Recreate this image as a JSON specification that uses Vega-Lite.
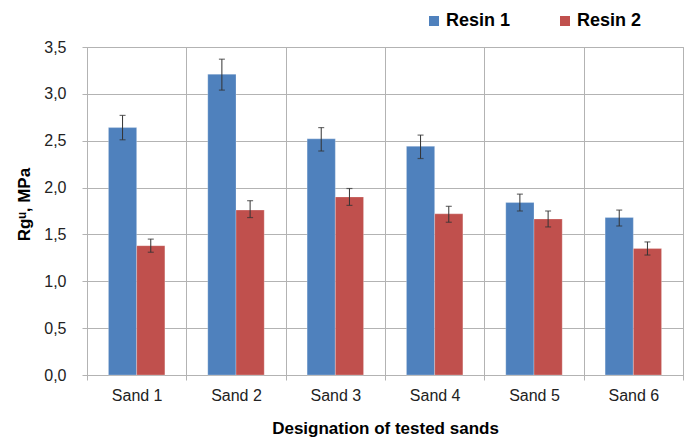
{
  "$schema": "https://vega.github.io/schema/vega-lite/v6.json",
  "width": 596,
  "height": 328,
  "autosize": {"type": "none"},
  "padding": {"left": 87, "top": 47, "right": 6, "bottom": 66},
  "background": "white",
  "config": {
    "view": {"stroke": "#b3b3b3"},
    "font": "Liberation Sans",
    "locale": {"number": {"decimal": ",", "thousands": ".", "grouping": [3], "currency": ["", " €"]}},
    "axis": {"gridColor": "#b3b3b3", "domainColor": "#b3b3b3", "tickColor": "#b3b3b3", "labelFont": "Liberation Sans", "labelFontSize": 16, "labelColor": "#222222", "titleFont": "Liberation Sans", "titleFontSize": 17, "titleFontWeight": "bold", "titleColor": "#000000"}
  },
  "data": {
    "values": [
      {"sand": "Sand 1", "resin": "Resin 1", "value": 2.64, "lo": 2.51, "hi": 2.77},
      {"sand": "Sand 1", "resin": "Resin 2", "value": 1.38, "lo": 1.31, "hi": 1.45},
      {"sand": "Sand 2", "resin": "Resin 1", "value": 3.21, "lo": 3.04, "hi": 3.37},
      {"sand": "Sand 2", "resin": "Resin 2", "value": 1.76, "lo": 1.68, "hi": 1.86},
      {"sand": "Sand 3", "resin": "Resin 1", "value": 2.52, "lo": 2.39, "hi": 2.64},
      {"sand": "Sand 3", "resin": "Resin 2", "value": 1.90, "lo": 1.81, "hi": 1.99},
      {"sand": "Sand 4", "resin": "Resin 1", "value": 2.44, "lo": 2.31, "hi": 2.56},
      {"sand": "Sand 4", "resin": "Resin 2", "value": 1.72, "lo": 1.63, "hi": 1.80},
      {"sand": "Sand 5", "resin": "Resin 1", "value": 1.84, "lo": 1.75, "hi": 1.93},
      {"sand": "Sand 5", "resin": "Resin 2", "value": 1.665, "lo": 1.58, "hi": 1.75},
      {"sand": "Sand 6", "resin": "Resin 1", "value": 1.68, "lo": 1.59, "hi": 1.76},
      {"sand": "Sand 6", "resin": "Resin 2", "value": 1.35, "lo": 1.28, "hi": 1.42}
    ]
  },
  "layer": [
    {
      "mark": {"type": "bar", "stroke": "#ffffff", "strokeOpacity": 0.5, "strokeWidth": 0.5},
      "encoding": {
        "x": {"field": "sand", "type": "nominal", "scale": {"paddingInner": 0, "paddingOuter": 0},
          "axis": {"title": "Designation of tested sands", "labelAngle": 0, "grid": true, "tickBand": "extent", "tickSize": 5, "labelPadding": 7, "titlePadding": 17}},
        "xOffset": {"field": "resin", "type": "nominal", "scale": {"paddingInner": 0, "paddingOuter": 0.76}},
        "y": {"field": "value", "type": "quantitative", "title": "Rgᵘ, MPa", "scale": {"domain": [0, 3.5], "nice": false},
          "axis": {"values": [0, 0.5, 1, 1.5, 2, 2.5, 3, 3.5], "format": ".1f", "tickSize": 5, "labelPadding": 16, "titlePadding": 10, "titleY": 157}},
        "color": {"field": "resin", "type": "nominal", "scale": {"domain": ["Resin 1", "Resin 2"], "range": ["#4F81BD", "#C0504D"]},
          "legend": {"title": null, "orient": "none", "direction": "horizontal", "legendX": 338, "legendY": -35, "symbolType": "square", "symbolSize": 100, "symbolStrokeWidth": 0, "labelFontSize": 18, "labelFontWeight": "bold", "labelColor": "#000000", "labelFont": "Liberation Sans", "columnPadding": 45, "labelOffset": 3, "padding": 0}}
      }
    },
    {
      "mark": {"type": "rule", "color": "#333333", "strokeWidth": 1},
      "encoding": {
        "x": {"field": "sand", "type": "nominal"},
        "xOffset": {"field": "resin", "type": "nominal"},
        "y": {"field": "lo", "type": "quantitative", "title": "Rgᵘ, MPa"},
        "y2": {"field": "hi"}
      }
    },
    {
      "mark": {"type": "tick", "color": "#333333", "size": 6, "thickness": 1.2},
      "encoding": {
        "x": {"field": "sand", "type": "nominal"},
        "xOffset": {"field": "resin", "type": "nominal"},
        "y": {"field": "lo", "type": "quantitative", "title": "Rgᵘ, MPa"}
      }
    },
    {
      "mark": {"type": "tick", "color": "#333333", "size": 6, "thickness": 1.2},
      "encoding": {
        "x": {"field": "sand", "type": "nominal"},
        "xOffset": {"field": "resin", "type": "nominal"},
        "y": {"field": "hi", "type": "quantitative", "title": "Rgᵘ, MPa"}
      }
    }
  ]
}
